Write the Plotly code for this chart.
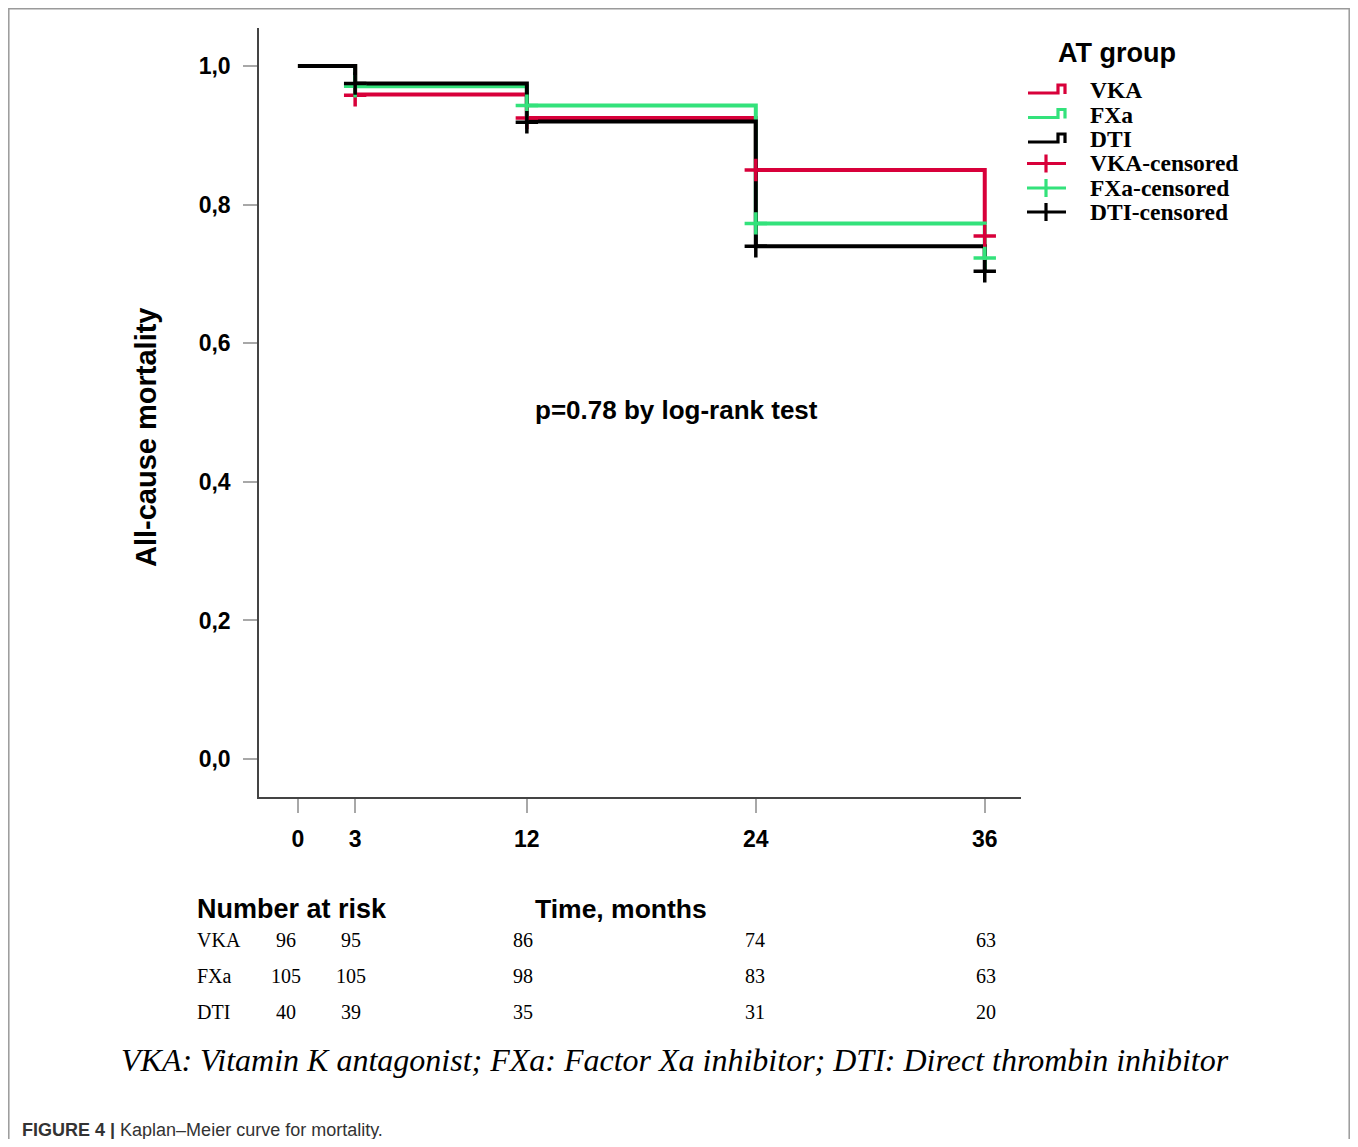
import plotly.graph_objects as go

# ---------------- data ----------------
groups = ["VKA", "FXa", "DTI"]
colors = {"VKA": "#D8003A", "FXa": "#33E27B", "DTI": "#000000"}

step_times = [0, 3, 12, 24, 36]
vka_surv = [1.0, 0.959, 0.925, 0.850, 0.772]
fxa_surv = [1.0, 0.971, 0.943, 0.773, 0.723]
dti_surv = [1.0, 0.975, 0.920, 0.740, 0.704]

vka_cens_t = [3, 12, 24, 36]
vka_cens_s = [0.958, 0.925, 0.850, 0.755]
fxa_cens_t = [3, 12, 24, 36]
fxa_cens_s = [0.971, 0.943, 0.773, 0.723]
dti_cens_t = [3, 12, 24, 36]
dti_cens_s = [0.975, 0.919, 0.740, 0.704]

x_ticks = [0, 3, 12, 24, 36]
y_ticks = [0.0, 0.2, 0.4, 0.6, 0.8, 1.0]
y_tick_labels = ["0,0", "0,2", "0,4", "0,6", "0,8", "1,0"]

risk_times = [0, 3, 12, 24, 36]
risk_vka = [96, 95, 86, 74, 63]
risk_fxa = [105, 105, 98, 83, 63]
risk_dti = [40, 39, 35, 31, 20]

surv = {"VKA": vka_surv, "FXa": fxa_surv, "DTI": dti_surv}
cens = {"VKA": (vka_cens_t, vka_cens_s), "FXa": (fxa_cens_t, fxa_cens_s), "DTI": (dti_cens_t, dti_cens_s)}
risk = {"VKA": risk_vka, "FXa": risk_fxa, "DTI": risk_dti}

# ---------------- layout geometry ----------------
OFF = 8                       # page body margin
W, H = 1358 - 2 * OFF, 1147 - 2 * OFF
PX0, PX1, PY0, PY1 = 259, 1021, 28, 797  # plot area in screen pixels


def px(xp):
    return (xp - PX0) / (PX1 - PX0)


def py(yp):
    return (PY1 - yp) / (PY1 - PY0)


SANS = "Liberation Sans, Arial, sans-serif"
SERIF = "Liberation Serif, Times New Roman, serif"

fig = go.Figure()

for g in groups:
    fig.add_trace(go.Scatter(
        x=step_times, y=surv[g], mode="lines", line=dict(color=colors[g], width=4, shape="hv"),
        showlegend=False, hoverinfo="skip"))

for g in groups:
    t, s = cens[g]
    fig.add_trace(go.Scatter(
        x=t, y=s, mode="markers",
        marker=dict(symbol="cross-thin", size=16, line=dict(color=colors[g], width=3.5)),
        showlegend=False, hoverinfo="skip"))

shapes = []
annotations = []

# border of the figure panel
shapes.append(dict(type="rect", xref="paper", yref="paper", x0=px(8.8), x1=px(1349.2), y0=py(1170), y1=py(8.8),
                   line=dict(color="#9A9A9A", width=1.5), fillcolor="rgba(0,0,0,0)", layer="below"))

# ---------------- custom legend ----------------
annotations.append(dict(text="<b>AT group</b>", xref="paper", yref="paper", x=px(1056), y=py(53),
                        xanchor="left", yanchor="middle", showarrow=False,
                        font=dict(family=SANS, size=27, color="#000")))
leg_y = {"VKA": 90, "FXa": 114.5, "DTI": 139}
for g in groups:
    yc = leg_y[g]
    path_pts = [(1028, yc + 3), (1058, yc + 3), (1058, yc - 5), (1065, yc - 5), (1065, yc + 4)]
    path = "M " + " L ".join(f"{px(a)},{py(b)}" for a, b in path_pts)
    shapes.append(dict(type="path", xref="paper", yref="paper", path=path,
                       line=dict(color=colors[g], width=3.2)))
    annotations.append(dict(text=f"<b>{g}</b>", xref="paper", yref="paper", x=px(1088), y=py(yc),
                            xanchor="left", yanchor="middle", showarrow=False,
                            font=dict(family=SERIF, size=23.5, color="#000")))
cens_y = {"VKA": 163.5, "FXa": 188, "DTI": 212}
for g in groups:
    yc = cens_y[g]
    shapes.append(dict(type="line", xref="paper", yref="paper", x0=px(1027), x1=px(1066), y0=py(yc), y1=py(yc),
                       line=dict(color=colors[g], width=3.2)))
    shapes.append(dict(type="line", xref="paper", yref="paper", x0=px(1046), x1=px(1046), y0=py(yc - 9), y1=py(yc + 9),
                       line=dict(color=colors[g], width=3.2)))
    annotations.append(dict(text=f"<b>{g}-censored</b>", xref="paper", yref="paper", x=px(1088), y=py(yc),
                            xanchor="left", yanchor="middle", showarrow=False,
                            font=dict(family=SERIF, size=23.5, color="#000")))

# p-value text
annotations.append(dict(text="<b>p=0.78 by log-rank test</b>", xref="paper", yref="paper", x=px(676), y=py(410),
                        xanchor="center", yanchor="middle", showarrow=False,
                        font=dict(family=SANS, size=26, color="#000")))

# y axis title
annotations.append(dict(text="<b>All-cause mortality</b>", xref="paper", yref="paper", x=px(146), y=py(438),
                        xanchor="center", yanchor="middle", textangle=-90, showarrow=False,
                        font=dict(family=SANS, size=29, color="#000")))

# risk table
annotations.append(dict(text="<b>Number at risk</b>", xref="paper", yref="paper", x=px(195), y=py(909),
                        xanchor="left", yanchor="middle", showarrow=False,
                        font=dict(family=SANS, size=27, color="#000")))
annotations.append(dict(text="<b>Time, months</b>", xref="paper", yref="paper", x=px(533), y=py(909),
                        xanchor="left", yanchor="middle", showarrow=False,
                        font=dict(family=SANS, size=26.5, color="#000")))
row_y = {"VKA": 940, "FXa": 976, "DTI": 1012}
col_shift = [-12, -4, -4, -1, 1]
for g in groups:
    annotations.append(dict(text=g, xref="paper", yref="paper", x=px(195), y=py(row_y[g]),
                            xanchor="left", yanchor="middle", showarrow=False,
                            font=dict(family=SERIF, size=20, color="#000")))
    for i, (t, v) in enumerate(zip(risk_times, risk[g])):
        annotations.append(dict(text=str(v), xref="x", yref="paper", x=t, y=py(row_y[g]), xshift=col_shift[i],
                                xanchor="center", yanchor="middle", showarrow=False,
                                font=dict(family=SERIF, size=20, color="#000")))

# footnote
annotations.append(dict(text="<i>VKA: Vitamin K antagonist; FXa: Factor Xa inhibitor; DTI: Direct thrombin inhibitor</i>",
                        xref="paper", yref="paper", x=px(675), y=py(1060),
                        xanchor="center", yanchor="middle", showarrow=False,
                        font=dict(family=SERIF, size=32, color="#000")))
# caption
annotations.append(dict(text="<b>FIGURE 4 |</b> Kaplan–Meier curve for mortality.",
                        xref="paper", yref="paper", x=px(20), y=py(1130),
                        xanchor="left", yanchor="middle", showarrow=False,
                        font=dict(family=SANS, size=18, color="#333")))

fig.update_layout(
    width=W, height=H,
    margin=dict(l=PX0 - OFF, r=W - (PX1 - OFF), t=PY0 - OFF, b=H - (PY1 - OFF), pad=0),
    paper_bgcolor="white", plot_bgcolor="white",
    shapes=shapes, annotations=annotations,
    showlegend=False,
)

fig.update_xaxes(
    range=[-2.04, 37.9], tickvals=x_ticks, ticktext=[f"<b>{v}</b>" for v in x_ticks],
    showgrid=False, zeroline=False, showline=True, linecolor="#444", linewidth=1.5,
    ticks="outside", ticklen=14, tickwidth=2, tickcolor="#A8A8A8", ticklabelstandoff=7,
    tickfont=dict(family=SANS, size=23, color="#000"),
)
fig.update_yaxes(
    range=[-0.0548, 1.055], tickvals=y_ticks, ticktext=[f"<b>{t}</b>" for t in y_tick_labels],
    showgrid=False, zeroline=False, showline=True, linecolor="#444", linewidth=1.5,
    ticks="outside", ticklen=14, tickwidth=2, tickcolor="#A8A8A8", ticklabelstandoff=8,
    tickfont=dict(family=SANS, size=23, color="#000"),
)

fig.write_html("out.html")
